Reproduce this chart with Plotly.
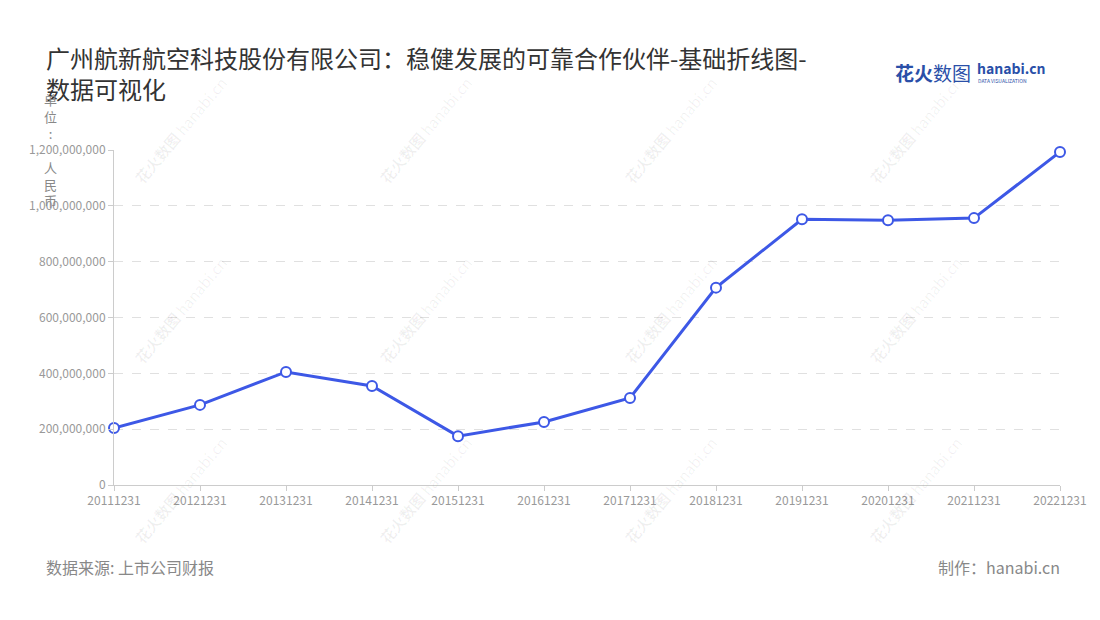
import plotly.graph_objects as go

dates = ["20111231", "20121231", "20131231", "20141231", "20151231", "20161231",
         "20171231", "20181231", "20191231", "20201231", "20211231", "20221231"]
values = [204000000, 287000000, 405000000, 355000000, 175000000, 226000000,
          312000000, 707000000, 952000000, 948000000, 956000000, 1193000000]
y_ticks = [0, 200000000, 400000000, 600000000, 800000000, 1000000000, 1200000000]

title_text = "广州航新航空科技股份有限公司：稳健发展的可靠合作伙伴-基础折线图-<br>数据可视化"
source_text = "数据来源: 上市公司财报"
maker_text = "制作：hanabi.cn"
unit_text = "单<br>位<br>:<br> <br>人<br>民<br>币"

FONT = "Noto Sans CJK SC, Noto Sans, sans-serif"
BLUE = "#3d58e6"

# page offset (browser body margin)
OFF = 8
W, H = 1100, 620
ML, MR, MT, MB = 114 - OFF, W - (1060 - OFF), 150 - OFF, H - (485 - OFF)

fig = go.Figure()
fig.add_trace(go.Scatter(
    x=list(range(len(dates))), y=values, mode="lines+markers",
    line=dict(color=BLUE, width=3),
    marker=dict(size=10, color="white", line=dict(color=BLUE, width=2)),
    cliponaxis=False, hoverinfo="x+y", showlegend=False,
))

fig.update_layout(
    width=W, height=H,
    paper_bgcolor="white", plot_bgcolor="white",
    margin=dict(l=ML, r=MR, t=MT, b=MB),
    font=dict(family=FONT, color="#999999", size=12),
    xaxis=dict(
        range=[0, len(dates) - 1],
        tickvals=list(range(len(dates))), ticktext=dates,
        showgrid=False, zeroline=False,
        showline=True, linecolor="#cccccc", linewidth=1,
        ticks="outside", ticklen=5, tickcolor="#cccccc",
        tickfont=dict(size=12, color="#999999"),
    ),
    yaxis=dict(
        range=[0, 1200000000], tickvals=y_ticks, tickformat=",d",
        showgrid=True, gridcolor="#e0e0e0", griddash="dash", gridwidth=1,
        zeroline=False,
        showline=True, linecolor="#cccccc", linewidth=1,
        ticks="outside", ticklen=5, tickcolor="#cccccc",
        tickfont=dict(size=12, color="#999999"),
    ),
)

# positions below are screen pixels of the reference
annotations = [
    dict(text=title_text, x=44, y=38, xanchor="left", yanchor="top", align="left",
         font=dict(size=24, color="#333333", family=FONT)),
    dict(text=unit_text, x=50, y=88, xanchor="center", yanchor="top", align="center",
         font=dict(size=13, color="#888888", family=FONT)),
    dict(text=source_text, x=44, y=567, xanchor="left", yanchor="middle",
         font=dict(size=16, color="#888888", family=FONT)),
    dict(text=maker_text, x=1062, y=567, xanchor="right", yanchor="middle",
         font=dict(size=16, color="#888888", family=FONT)),
    dict(text="<b>花火</b>数图", x=893, y=72, xanchor="left", yanchor="middle",
         font=dict(size=19, color="#2a4fa8", family=FONT)),
    dict(text="<b>hanabi.cn</b>", x=975, y=68, xanchor="left", yanchor="middle",
         font=dict(size=14, color="#2a4fa8", family=FONT)),
    dict(text="DATA VISUALIZATION", x=976, y=80, xanchor="left", yanchor="middle",
         font=dict(size=5, color="#2a4fa8", family=FONT)),
]

for cx in [180, 425, 670, 915]:
    for cy in [130, 310, 490]:
        annotations.append(dict(
            text="<b>花火数图</b> hanabi.cn", x=cx, y=cy,
            xanchor="center", yanchor="middle", textangle=-50,
            font=dict(size=15, color="rgba(0,0,0,0.06)", family=FONT)))

pw = W - ML - MR
ph = H - MT - MB
for a in annotations:
    a["xref"] = "paper"
    a["yref"] = "paper"
    a["showarrow"] = False
    fx = a["x"] - OFF
    fy = a["y"] - OFF
    a["x"] = (fx - ML) / pw
    a["y"] = ((H - fy) - MB) / ph

fig.update_layout(annotations=annotations)
fig.write_html("out.html")
